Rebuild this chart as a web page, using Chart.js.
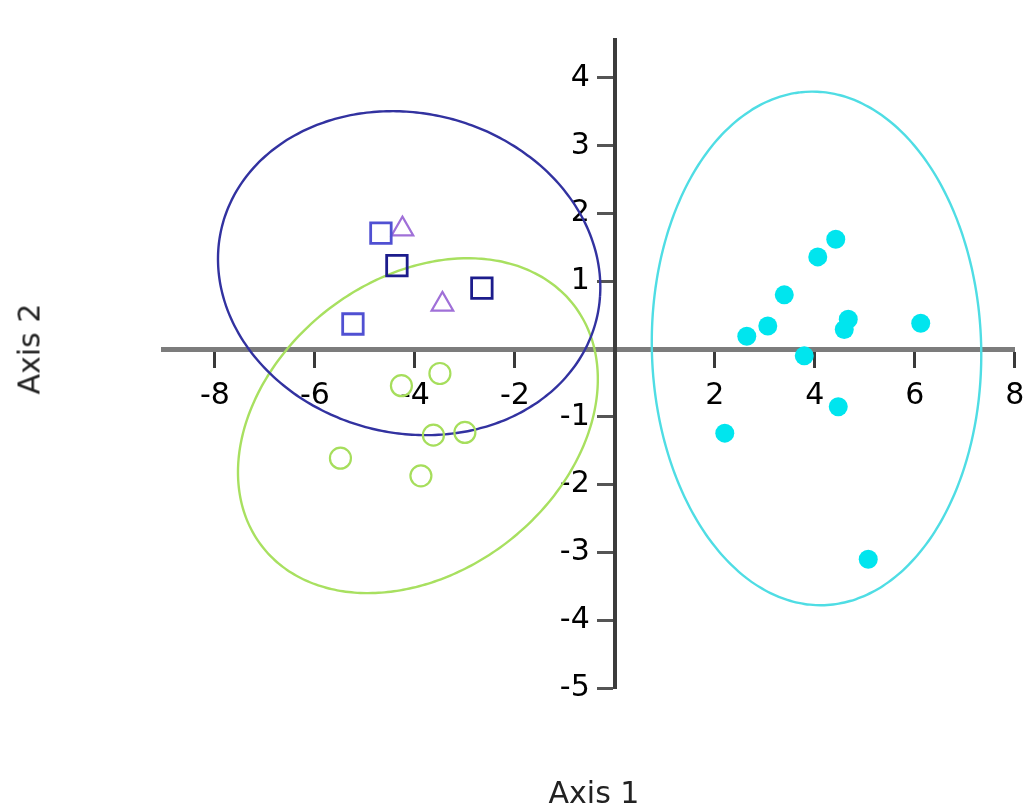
<!DOCTYPE html>
<html>
<head>
<meta charset="utf-8">
<script src="https://cdn.jsdelivr.net/npm/chart.js@4.4.0/dist/chart.umd.min.js"></script>
<style>
  body { margin: 0; background: #fff; }
  #wrap { position: relative; width: 1032px; height: 809px; }
  .axis_title { position: absolute; font-family: "DejaVu Sans"; font-size: 30px; color: #222; white-space: nowrap; }
  #title_x { left: 594px; top: 792px; transform: translate(-50%, -50%); }
  #title_y { left: 29px; top: 349px; transform: translate(-50%, -50%) rotate(-90deg); }
</style>
</head>
<body>
<div id="wrap">
  <canvas id="my_chart" width="1032" height="809"></canvas>
  <div class="axis_title" id="title_x">Axis 1</div>
  <div class="axis_title" id="title_y">Axis 2</div>
</div>
<script>
// point groups
const cyanX = [4.42, 4.06, 3.39, 3.06, 2.64, 4.67, 4.59, 6.12, 3.79, 4.47, 2.20, 5.07]
const cyanY = [1.62, 1.36, 0.80, 0.34, 0.19, 0.44, 0.29, 0.38, -0.10, -0.85, -1.24, -3.10]
const greenX = [-3.50, -4.27, -3.63, -3.00, -5.49, -3.88]
const greenY = [-0.36, -0.54, -1.27, -1.23, -1.61, -1.87]
const navyX = [-4.36, -2.66]
const navyY = [1.23, 0.90]
const blueX = [-4.68, -5.24]
const blueY = [1.71, 0.37]
const purpleX = [-4.25, -3.45]
const purpleY = [1.77, 0.66]

// ellipses: blue, green, cyan
const ellipseCenterX = [-4.115, -3.94, 4.035]
const ellipseCenterY = [1.12, -1.13, 0.01]
const ellipseMajor = [3.834, 3.709, 3.792]
const ellipseMinor = [2.375, 2.303, 3.292]
const ellipseAngle = [-5.1, 17.9, 95]
const ellipseColors = ['#3232a0', '#a8e060', '#4fdde4']

const xTicks = [-8, -6, -4, -2, 2, 4, 6, 8]
const yTicks = [-5, -4, -3, -2, -1, 1, 2, 3, 4]

function toPoints(xs, ys) {
  return xs.map((x, i) => ({ x: x, y: ys[i] }))
}

function ellipsePoints(i) {
  const pts = []
  const th = ellipseAngle[i] * Math.PI / 180
  for (let k = 0; k <= 180; k++) {
    const t = k / 180 * 2 * Math.PI
    pts.push({
      x: ellipseCenterX[i] + ellipseMajor[i] * Math.cos(th) * Math.cos(t) - ellipseMinor[i] * Math.sin(th) * Math.sin(t),
      y: ellipseCenterY[i] + ellipseMajor[i] * Math.sin(th) * Math.cos(t) + ellipseMinor[i] * Math.cos(th) * Math.sin(t)
    })
  }
  return pts
}

// keep the centred axes from eating space around the plot
function noSpace(scale) {
  scale.paddingLeft = 0
  scale.paddingRight = 0
  scale.paddingTop = 0
  scale.paddingBottom = 0
  if (scale.isHorizontal()) scale.height = 0
  else scale.width = 0
}

const datasets = [
  { data: toPoints(cyanX, cyanY), pointStyle: 'circle', pointRadius: 9.5, backgroundColor: '#00e5ee', borderWidth: 0, order: 1 },
  { data: toPoints(greenX, greenY), pointStyle: 'circle', pointRadius: 10.5, backgroundColor: 'rgba(0,0,0,0)', borderColor: '#a6de5c', borderWidth: 2.2, order: 1 },
  { data: toPoints(navyX, navyY), pointStyle: 'rect', pointRadius: 14.5, backgroundColor: 'rgba(0,0,0,0)', borderColor: '#1c1c8c', borderWidth: 2.8, order: 1 },
  { data: toPoints(blueX, blueY), pointStyle: 'rect', pointRadius: 14.5, backgroundColor: 'rgba(0,0,0,0)', borderColor: '#5050d2', borderWidth: 2.8, order: 1 },
  { data: toPoints(purpleX, purpleY), pointStyle: 'triangle', pointRadius: 12.5, backgroundColor: 'rgba(0,0,0,0)', borderColor: '#a070d8', borderWidth: 2.2, order: 1 }
]

for (let i = 0; i < 3; i++) {
  datasets.push({
    data: ellipsePoints(i),
    showLine: true,
    pointRadius: 0,
    borderColor: ellipseColors[i],
    borderWidth: 2.4,
    tension: 0.2,
    fill: false,
    order: 2
  })
}

const tickFont = { family: 'DejaVu Sans', size: 30 }

new Chart(document.querySelector('#my_chart'), {
  type: 'scatter',
  data: { datasets: datasets },
  options: {
    responsive: false,
    animation: false,
    layout: { padding: { left: 163, right: 11, top: 40, bottom: 121 } },
    plugins: { legend: { display: false }, tooltip: { enabled: false } },
    scales: {
      x: {
        type: 'linear',
        min: -9.04,
        max: 8,
        position: { y: 0 },
        afterBuildTicks: (scale) => { scale.ticks = xTicks.map(v => ({ value: v })) },
        afterFit: noSpace,
        border: { display: true, color: '#7c7c7c', width: 5 },
        grid: { drawOnChartArea: false, drawTicks: true, tickLength: 16, tickWidth: 3, tickColor: '#3a3a3a' },
        ticks: { font: tickFont, color: '#000', padding: 13, autoSkip: false, maxRotation: 0 }
      },
      y: {
        type: 'linear',
        min: -5,
        max: 4.56,
        position: { x: 0 },
        afterBuildTicks: (scale) => { scale.ticks = yTicks.map(v => ({ value: v })) },
        afterFit: noSpace,
        border: { display: true, color: '#3c3c3c', width: 4 },
        grid: { drawOnChartArea: false, drawTicks: true, tickLength: 16, tickWidth: 3, tickColor: '#555' },
        // labels of a centred y axis sit right on the line, so push them left with spaces
        ticks: { font: tickFont, color: '#000', autoSkip: false, callback: (v) => v + '  \u2009' }
      }
    }
  }
})
</script>
</body>
</html>
